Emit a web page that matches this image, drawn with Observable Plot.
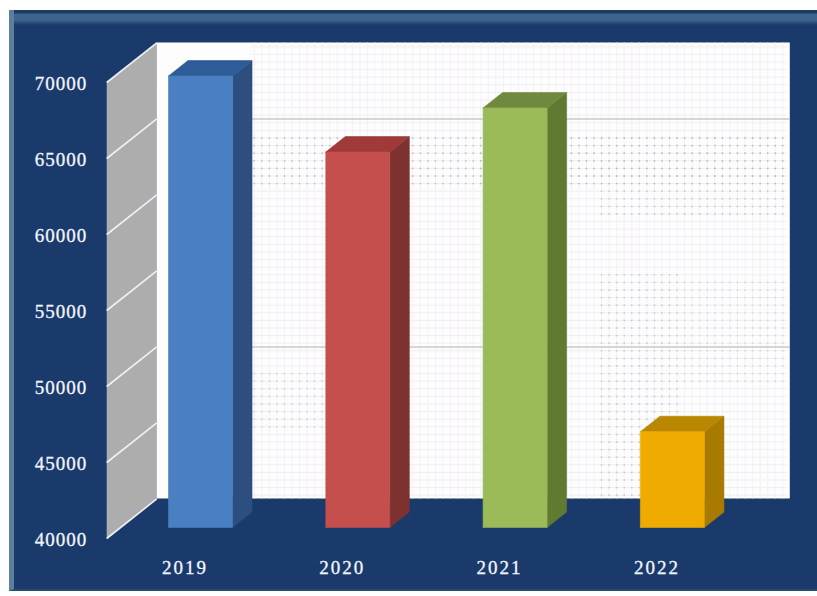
<!DOCTYPE html>
<html>
<head>
<meta charset="utf-8">
<script src="https://cdn.jsdelivr.net/npm/d3@7"></script>
<script src="https://cdn.jsdelivr.net/npm/@observablehq/plot@0.6"></script>
<style>
  html, body { margin: 0; padding: 0; background: #fff; }
  #chart { position: relative; width: 817px; height: 596px; overflow: hidden; }
  #panel {
    position: absolute; left: 9px; top: 10px; width: 808px; height: 581px;
    background: linear-gradient(#1d3a66 0, #1d3a66 3px, #3f648c 4px, #3f648c 10px, #1a3a6c 15px, #1a3a6c 100%);
    border-left: 5px solid #5d7f9c; box-sizing: border-box;
    border-bottom: 2px solid #2b4a6b;
  }
  #chart svg { position: absolute; left: 0; top: 0; background: transparent; }
  #chart svg .value-label { letter-spacing: 1px; }
  #chart svg .year-label { letter-spacing: 2px; }
</style>
</head>
<body>
<div id="chart"><div id="panel"></div></div>
<script>
// Annual totals
const years = ["2019", "2020", "2021", "2022"];
const totals = [69700, 64700, 67600, 46300];
const frontColors = ["#4a80c2", "#c44f4c", "#9bbb59", "#f0ab00"];
const topColors = ["#2d5c98", "#a03a38", "#71893f", "#b98700"];
const sideColors = ["#2c4f80", "#7d3230", "#617a32", "#a87a00"];
const yTicks = [40000, 45000, 50000, 55000, 60000, 65000, 70000];
// Gridlines that print darker on the back wall
const strongGrid = [50000, 65000];
// Patches of the back wall where the dotted mesh prints heavier: [yFrom, yTo, xFrom, xTo, opacity]
const meshPatches = [
  [62900, 66840, 0.42, 1.88, 0.42],
  [62900, 66840, 1.88, 3.82, 0.5],
  [60900, 62900, 2.64, 3.82, 0.36],
  [42500, 57630, 2.64, 3.15, 0.34],
  [50000, 57000, 3.15, 3.82, 0.24],
  [47100, 51050, 0.42, 0.9, 0.28]
];

// Oblique depth of the chart box, in scale units
const depthX = 0.318;
const depthY = 2600;
const baseY = yTicks[0];
const topY = yTicks[yTicks.length - 1];
const wallLeft = -0.4977;
const wallRight = 3.53;

// A point at category position x, value y and depth d (0 = front plane, 1 = back wall)
const at = (x, y, d, key, color) => ({x: x + d * depthX, y: y + d * depthY, key, color});
const face = (key, color, pts) => [...pts, pts[0]].map(([x, y, d]) => at(x, y, d, key, color));

// Column geometry in the same units
const barLeft = -0.194, barRight = 0.213, barFront = 0.28, barBack = 0.67;

const faces = years.flatMap((yr, i) => {
  const v = totals[i], l = i + barLeft, r = i + barRight;
  return [
    ...face(`side${yr}`, sideColors[i], [[r, baseY, barFront], [r, v, barFront], [r, v, barBack], [r, baseY, barBack]]),
    ...face(`top${yr}`, topColors[i], [[l, v, barFront], [r, v, barFront], [r, v, barBack], [l, v, barBack]]),
    ...face(`front${yr}`, frontColors[i], [[l, baseY, barFront], [r, baseY, barFront], [r, v, barFront], [l, v, barFront]])
  ];
});

const sideWall = face("wall", "#adadad", [
  [wallLeft, baseY, 0], [wallLeft, topY, 0], [wallLeft, topY, 1], [wallLeft, baseY, 1]
]);

// Dotted mesh on the back wall
const backX0 = wallLeft + depthX, backX1 = wallRight + depthX;
const backY0 = baseY + depthY, backY1 = topY + depthY;
const meshY = d3.range(backY0 + 250, backY1, 500);
const meshX = d3.range(backX0 + 0.62, backX1 - 0.02, 0.048);
const meshDots = meshPatches.flatMap(([y0, y1, x0, x1, o]) =>
  meshY.filter((y) => y >= y0 && y < y1).flatMap((y) =>
    meshX.filter((x) => x >= x0 && x < x1).map((x) => ({x, y, o}))
  )
);

const chart = Plot.plot({
  width: 817,
  height: 596,
  margin: 0,
  x: {type: "linear", domain: [-1, 4], range: [27.2, 813.7], axis: null},
  y: {type: "linear", domain: [baseY, topY], range: [538, 82], axis: null},
  color: {type: "identity"},
  opacity: {type: "identity"},
  marks: [
    // back wall
    Plot.rect([0], {x1: backX0, x2: backX1, y1: backY0, y2: backY1, fill: "#fdfdfd"}),
    Plot.ruleY(meshY, {x1: backX0 + 0.6, x2: backX1 - 0.02, stroke: "#eeeeee", strokeWidth: 1}),
    Plot.ruleX(meshX, {y1: backY0, y2: backY1, stroke: "#f3f1f5", strokeWidth: 1}),
    Plot.dot(meshDots, {x: "x", y: "y", r: 0.9, fill: "#7f7f7f", fillOpacity: "o", stroke: null}),
    Plot.ruleY(strongGrid.map((v) => v + depthY), {x1: backX0 + 0.6, x2: backX1, stroke: "#c9c9c9", strokeWidth: 1.5}),

    // side wall with its white gridlines
    Plot.line(sideWall, {x: "x", y: "y", fill: "color", stroke: null, z: "key"}),
    Plot.link(yTicks, {
      x1: wallLeft, y1: (v) => v,
      x2: wallLeft + depthX, y2: (v) => v + depthY,
      stroke: "#eef1f5", strokeWidth: 1.6
    }),

    // columns; a hairline stroke closes the seams between faces
    Plot.line(faces, {x: "x", y: "y", fill: "color", stroke: "color", strokeWidth: 0.6, z: "key"}),

    // value axis and category labels
    Plot.text(yTicks, {
      x: wallLeft - 0.29, y: (v) => v, text: (v) => String(v), className: "value-label",
      fill: "#f2f5fa", stroke: "#f2f5fa", strokeWidth: 0.3, fontFamily: "Liberation Serif", fontSize: 19, dy: 1
    }),
    Plot.text(years, {
      x: (_, i) => i, y: baseY, text: (d) => d, dy: 29, className: "year-label",
      fill: "#f2f5fa", stroke: "#f2f5fa", strokeWidth: 0.3, fontFamily: "Liberation Serif", fontSize: 19
    })
  ]
});
document.getElementById("chart").appendChild(chart);
</script>
</body>
</html>
